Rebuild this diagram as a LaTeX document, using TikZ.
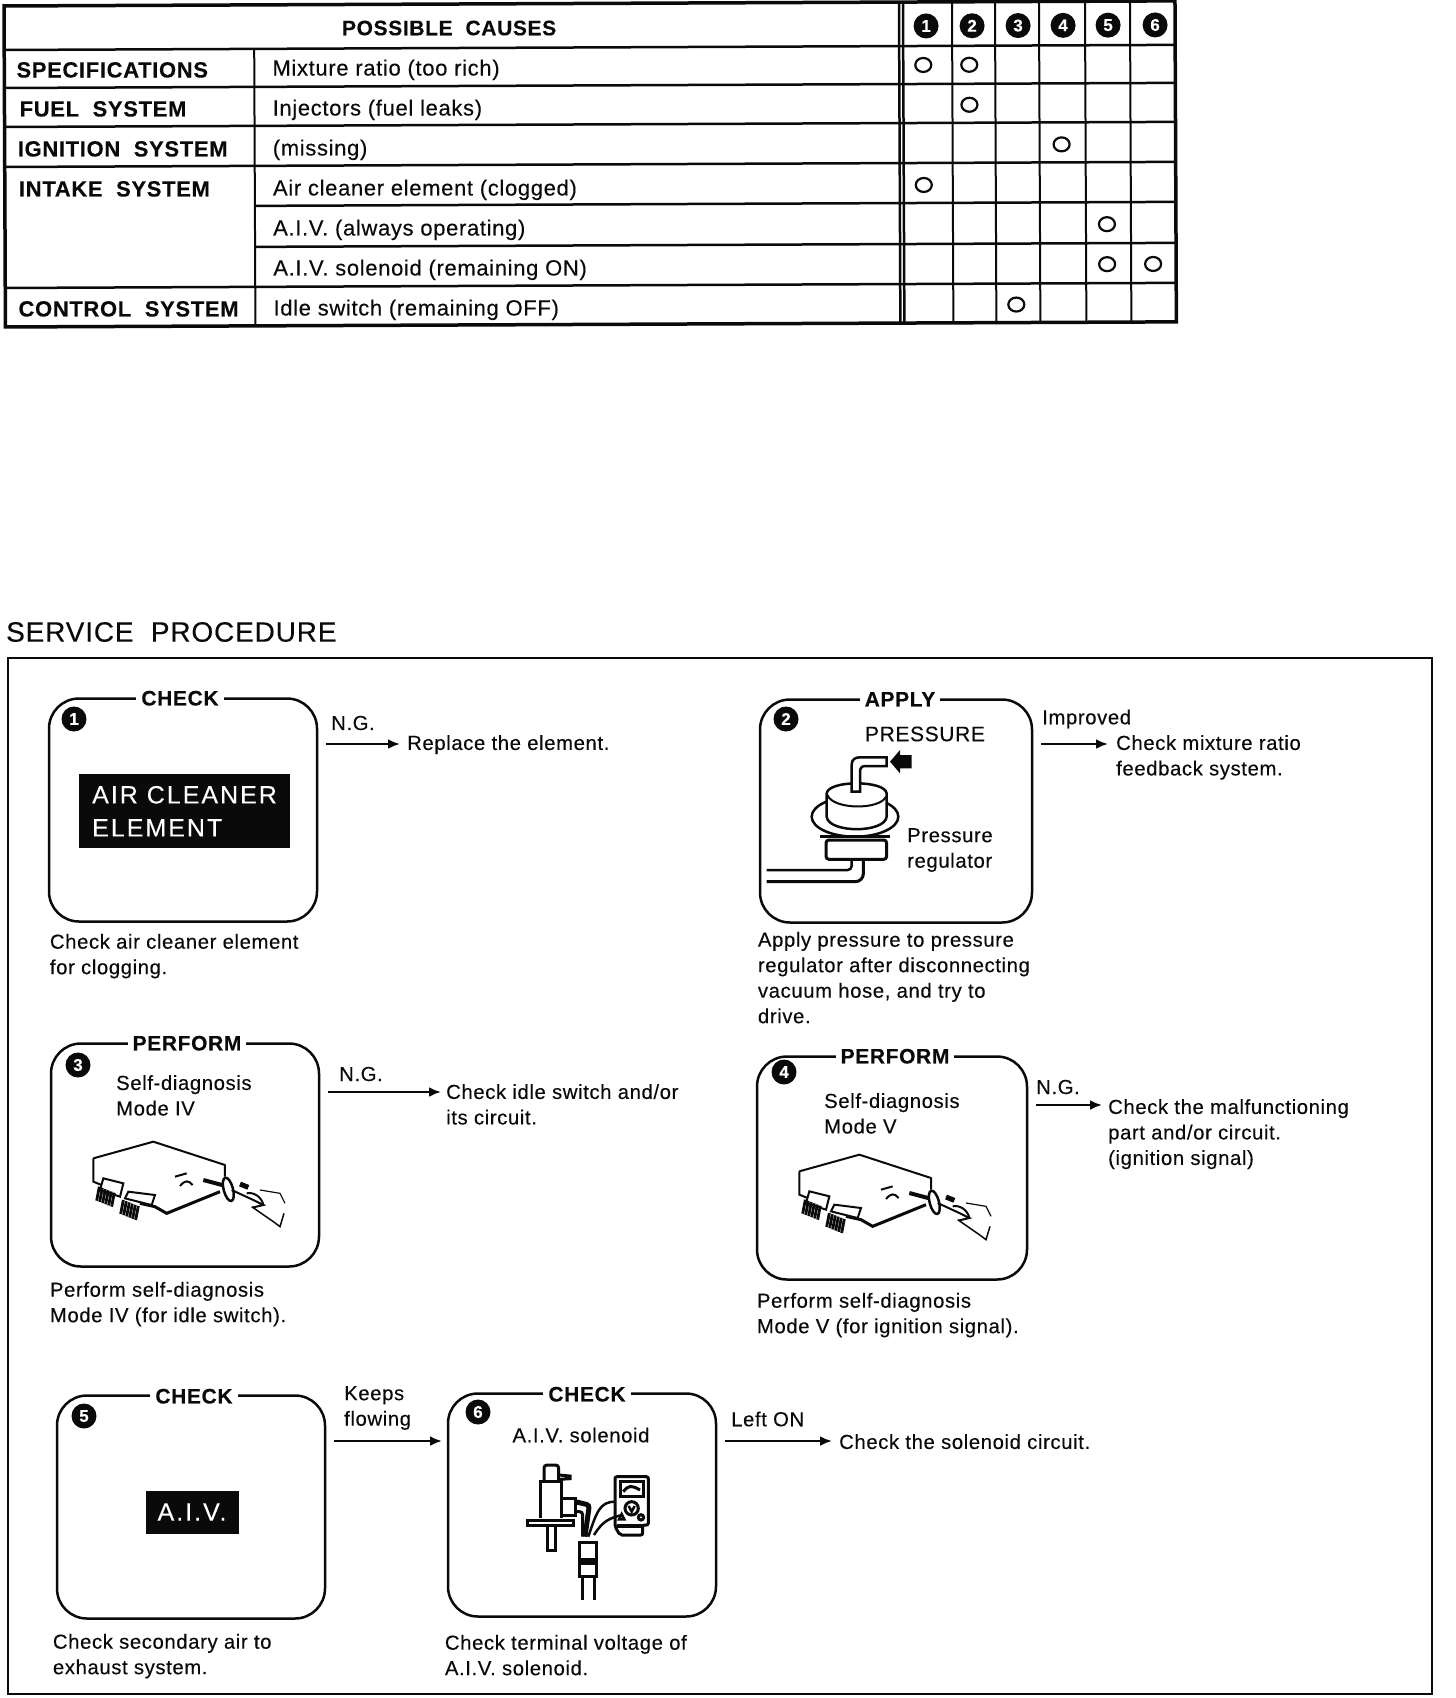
\documentclass[tikz,border=0pt]{standalone}
\usepackage{fontspec}
\usepackage{tikz}
\usetikzlibrary{arrows.meta,positioning}
\setmainfont{Liberation Sans}[LetterSpace=3,FakeBold=0.25]
\definecolor{scanblack}{HTML}{0A0A0A}
\newcommand{\bodyfont}{\fontsize{20.3}{25.5}\selectfont}
\newcommand{\tablefont}{\fontsize{22}{25}\selectfont}
\newcommand{\headfont}{\fontsize{21}{25}\selectfont\bfseries}
\newcommand{\groupfont}{\fontsize{22}{25}\selectfont\bfseries}

\tikzset{
  ecu/.pic={
    \draw[line width=2pt,line join=round] (160,385) -- (340,335) -- (555,405) -- (555,440);
    \draw[line width=2pt] (160,385) -- (160,455) -- (185,465);
    \draw[line width=3pt] (300,520) -- (345,530) -- (380,550) -- (540,485);
    \draw[line width=2pt,fill=white] (190,445) -- (250,460) -- (240,500) -- (180,480) -- cycle;
    \draw[line width=2pt,fill=white] (265,485) -- (345,495) -- (335,525) -- (255,505) -- cycle;
    \foreach \k in {0,9,18,27,36,45} {
      \draw[line width=2.8pt] (178+\k,470+\k*.4) -- (170+\k,512+\k*.4);
      \draw[line width=2.8pt] (250+\k,510+\k*.4) -- (242+\k,552+\k*.4);
    }
    \draw[line width=2pt] (405,440) -- (440,430);
    \draw[line width=2pt] (420,468) .. controls (435,450) and (445,450) .. (458,465);
    \draw[line width=4pt] (490,450) -- (550,466);
    \draw[line width=2.5pt,rotate around={15:(565,478)}] (565,478) ellipse (14 and 36);
    \draw[line width=5pt] (600,462) -- (625,472);
    \draw[line width=2pt] (575,480) -- (640,510) -- (670,525) -- (640,532);
    \draw[line width=2pt] (620,490) .. controls (640,485) and (665,500) .. (670,525);
    \draw[line width=1.2pt] (660,480) -- (720,490) -- (735,520);
    \draw[line width=1.5pt] (635,530) -- (700,575) -- (720,590) -- (732,550);
  }
}

\begin{document}
\begin{tikzpicture}[
  x=1pt, y=-1pt, scanblack,
  every node/.style={inner sep=0pt, align=left, font=\bodyfont, text=scanblack},
  headtxt/.style={font=\headfont},
  causetxt/.style={anchor=west, font=\tablefont},
  grouptxt/.style={anchor=west, font=\groupfont},
  badge/.style={circle, fill=scanblack, minimum size=25pt, text=white, font=\fontsize{17}{17}\selectfont\bfseries},
  stepbox/.style={draw, line width=2.5pt, rounded corners=30pt, minimum width=268pt, minimum height=223pt},
  steptitle/.style={fill=white, inner xsep=5pt, inner ysep=2pt, font=\headfont},
  blacktag/.style={fill=scanblack, text=white, font=\fontsize{25}{33}\selectfont\addfontfeature{LetterSpace=8}},
  captxt/.style={anchor=north west},
  restxt/.style={anchor=north west},
  flowline/.style={line width=2.5pt, shorten <=8pt, -{Latex[length=12pt,width=10pt]}}
]
\useasboundingbox (0,0) rectangle (1456,1698);

% causes table
\begin{scope}[rotate=0.25]
  \draw[line width=3.5pt] (4,6) rectangle (1175,327);
  \foreach \y in {50,88,127,167,288} \draw[line width=2.5pt] (4,\y) -- (1175,\y);
  \foreach \y in {207,248} \draw[line width=2.5pt] (254,\y) -- (1175,\y);
  \draw[line width=2pt] (254,50) -- (254,327);
  \draw[line width=2.5pt] (899,6) -- (899,327);
  \draw[line width=2.5pt] (903,6) -- (903,327);
  \foreach \x in {952,995,1039,1085,1130} \draw[line width=2pt] (\x,6) -- (\x,327);
  \node[headtxt] (causes) at (449,30) {POSSIBLE\ \ CAUSES};
  \foreach \n/\x/\y in {1/926/30,2/972/30,3/1018/30,4/1063/30,5/1108/30,6/1155/30}
    \node[badge] (col\n) at (\x,\y) {\n};
  \foreach \n/\x/\y/\t in {a/16/70/SPECIFICATIONS,b/19/109/FUEL\ \ SYSTEM,c/17/149/IGNITION\ \ SYSTEM,d/18/189/INTAKE\ \ SYSTEM,e/17/309/CONTROL\ \ SYSTEM}
    \node[grouptxt] (group\n) at (\x,\y) {\t};
  \foreach \n/\y/\t in {a/71/Mixture ratio (too rich),b/111/Injectors (fuel leaks),c/151/(missing),d/191/Air cleaner element (clogged),e/231/A.I.V. (always operating),f/271/A.I.V. solenoid (remaining ON),g/311/Idle switch (remaining OFF)}
    \node[causetxt] (cause\n) at (272,\y) {\t};
  \foreach \x/\y in {923/69,969/69,969/109,1061/149,923/189,1106/229,1106/269,1152/269,1015/309}
    \draw[line width=2.2pt] (\x,\y) ellipse (8 and 7);
\end{scope}

\node[anchor=west, font=\fontsize{28}{30}\selectfont] (service) at (6,632) {SERVICE\ \ PROCEDURE};
\draw[line width=2pt] (8,658) rectangle (1432,1694);

% step boxes
\node[stepbox] (box1) at (183,810) {};
\node[stepbox, minimum width=272pt] (box2) at (896,811) {};
\node[stepbox] (box3) at (185,1155) {};
\node[stepbox, minimum width=270pt] (box4) at (892,1168) {};
\node[stepbox] (box5) at (191,1507) {};
\node[stepbox] (box6) at (582,1505) {};

\node[steptitle, xshift=-3pt, yshift=-1pt] (title1) at (box1.north) {CHECK};
\node[steptitle, xshift=4pt, yshift=-1pt] (title2) at (box2.north) {APPLY};
\node[steptitle, xshift=2pt, yshift=-1pt] (title3) at (box3.north) {PERFORM};
\node[steptitle, xshift=3pt, yshift=-1pt] (title4) at (box4.north) {PERFORM};
\node[steptitle, xshift=3pt, yshift=-2pt] (title5) at (box5.north) {CHECK};
\node[steptitle, xshift=5pt, yshift=-2pt] (title6) at (box6.north) {CHECK};

\node[badge] (num1) at (74,719) {1};
\node[badge] (num2) at (786,719) {2};
\node[badge] (num3) at (78,1065) {3};
\node[badge] (num4) at (784,1072) {4};
\node[badge] (num5) at (84,1416) {5};
\node[badge] (num6) at (478,1412) {6};

% box contents
\node[blacktag, anchor=north west, minimum height=74pt, minimum width=210pt, inner xsep=13pt] (tag1) at (79,774) {AIR CLEANER\\ELEMENT};
\node[blacktag, minimum width=93pt, minimum height=43pt, align=center] (tag5) at (192,1512) {A.I.V.};
\node[font=\fontsize{21}{25}\selectfont] (press) at (925,734) {PRESSURE};
\node[captxt] (reglabel) at (907,828) {Pressure\\regulator};
\node[captxt] (mode3) at (116,1075) {Self-diagnosis\\Mode IV};
\node[captxt] (mode4) at (824,1093) {Self-diagnosis\\Mode V};
\node (solenoid) at (581,1435) {A.I.V. solenoid};

% pressure regulator
\begin{scope}[shift={(740,680)}, scale=1/3]
  \draw[line width=2.5pt, fill=white] (345,410) ellipse (130 and 60);
  \draw[line width=2.5pt, fill=white] (260,340) -- (260,410) .. controls (265,460) and (435,460) .. (440,410) -- (440,340) .. controls (435,300) and (265,300) .. (260,340) -- cycle;
  \draw[line width=2pt] (262,345) .. controls (280,390) and (420,390) .. (438,350);
  \draw[line width=2.5pt, fill=white] (335,335) -- (335,255) .. controls (335,238) and (345,232) .. (360,232) -- (440,232) -- (440,258) -- (375,258) .. controls (365,258) and (360,265) .. (360,275) -- (360,335) -- cycle;
  \draw[line width=2.5pt] (240,470) -- (450,470);
  \draw[line width=3pt, fill=white, rounded corners=3pt] (258,480) -- (258,538) -- (440,538) -- (440,480) -- cycle;
  \draw[line width=2.5pt, rounded corners=4pt] (335,540) -- (335,570) -- (80,570);
  \draw[line width=3pt, rounded corners=8pt] (370,540) -- (370,605) -- (80,605);
  \fill (450,245) -- (480,210) -- (480,225) -- (515,225) -- (515,265) -- (480,265) -- (480,280) -- cycle;
\end{scope}

% ecu with hand
\pic[scale=1/3] at (40,1030) {ecu};
\pic[scale=1/3] at (746,1043) {ecu};

% solenoid and tester
\begin{scope}[shift={(440,1380)}, scale=1/3]
  \draw[line width=3pt, rounded corners=3pt] (312,300) -- (312,255) -- (356,255) -- (356,300);
  \draw[line width=3pt] (358,285) -- (390,288) -- (390,296) -- (358,298);
  \draw[line width=3pt] (300,415) -- (300,305) -- (365,305) -- (365,415);
  \draw[line width=3pt] (365,355) -- (405,355) -- (405,405) -- (365,405);
  \draw[line width=3pt] (262,422) rectangle (400,436);
  \draw[line width=3pt] (322,436) -- (322,510) -- (345,510) -- (345,436);
  \draw[line width=5pt, rounded corners=3pt] (405,365) -- (448,375) -- (435,470);
  \draw[line width=3pt, rounded corners=3pt] (405,395) -- (428,395) -- (428,470);
  \draw[line width=2.5pt] (445,470) .. controls (470,395) and (480,365) .. (525,365);
  \draw[line width=2.5pt] (462,465) .. controls (490,420) and (510,415) .. (545,405);
  \draw[line width=3pt, rounded corners=2pt] (525,415) -- (525,290) -- (625,290) -- (625,435) -- (608,435) -- (608,465) -- (540,465) -- (525,440) -- (525,415);
  \draw[line width=3pt] (540,305) rectangle (610,350);
  \draw[line width=3pt] (550,335) .. controls (565,315) and (575,315) .. (600,330);
  \draw[line width=3pt] (575,385) circle (20);
  \draw[line width=2.5pt] (566,378) -- (575,395) -- (584,378);
  \draw[line width=2.5pt] (537,418) -- (545,402) -- (553,418) -- cycle;
  \draw[line width=3pt] (603,412) circle (8);
  \draw[line width=4pt] (530,437) -- (610,437);
  \draw[line width=3pt] (418,488) rectangle (470,590);
  \draw[line width=7pt] (418,544) -- (470,544);
  \draw[line width=3pt] (428,590) -- (428,660);
  \draw[line width=3pt] (462,590) -- (462,660);
\end{scope}

% captions under the boxes
\node[captxt, below=11pt of box1.south west, anchor=north west, xshift=2pt] (cap1) {Check air cleaner element\\for clogging.};
\node[captxt, below=8pt of box2.south west, anchor=north west, xshift=-1pt] (cap2) {Apply pressure to pressure\\regulator after disconnecting\\vacuum hose, and try to\\drive.};
\node[captxt, below=14pt of box3.south west, anchor=north west] (cap3) {Perform self-diagnosis\\Mode IV (for idle switch).};
\node[captxt, below=12pt of box4.south west, anchor=north west, xshift=1pt] (cap4) {Perform self-diagnosis\\Mode V (for ignition signal).};
\node[captxt, below=14pt of box5.south west, anchor=north west, xshift=-3pt] (cap5) {Check secondary air to\\exhaust system.};
\node[captxt, below=17pt of box6.south west, anchor=north west, xshift=-2pt] (cap6) {Check terminal voltage of\\A.I.V. solenoid.};

% results and connectors
\coordinate (in1) at (400,744);
\coordinate (in2) at (1108,744);
\coordinate (in3) at (441,1092);
\coordinate (in4) at (1102,1105);
\coordinate (in5) at (442,1441);
\coordinate (in6) at (832,1441);
\node[restxt] (res1) at ([shift={(7,-9)}]in1) {Replace the element.};
\node[restxt] (res2) at ([shift={(8,-9)}]in2) {Check mixture ratio\\feedback system.};
\node[restxt] (res3) at ([shift={(5,-8)}]in3) {Check idle switch and/or\\its circuit.};
\node[restxt] (res4) at ([shift={(6,-6)}]in4) {Check the malfunctioning\\part and/or circuit.\\(ignition signal)};
\node[restxt] (res6) at ([shift={(7,-7)}]in6) {Check the solenoid circuit.};
\node[anchor=west] (ng1) at (331,723) {N.G.};
\node[anchor=west] (ng2) at (1042,719) {Improved};
\node[anchor=west] (ng3) at (339,1074) {N.G.};
\node[anchor=west] (ng4) at (1036,1087) {N.G.};
\node[restxt] (keeps) at (344,1386) {Keeps\\flowing};
\node[anchor=west] (lefton) at (731,1419) {Left ON};

\foreach \n in {1,2,...,6} \draw[flowline] (box\n.east |- in\n) -- (in\n);
\end{tikzpicture}
\end{document}
